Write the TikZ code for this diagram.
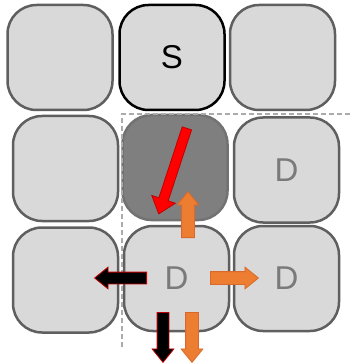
\documentclass[tikz,border=0pt]{standalone}
\usepackage{fontspec}
\setmainfont{Liberation Sans}
\usetikzlibrary{shapes.arrows}
\definecolor{boxfill}{HTML}{D9D9D9}
\definecolor{boxline}{HTML}{5F5F5F}
\definecolor{darkfill}{HTML}{7F7F7F}
\definecolor{dtext}{HTML}{7A7A7A}
\definecolor{dashgray}{HTML}{ABABAB}
\definecolor{arrorange}{HTML}{ED7D31}
\definecolor{arrorangeline}{HTML}{D8692A}
\definecolor{arrred}{HTML}{FF0000}
\definecolor{arrdarkred}{HTML}{C00000}
\begin{document}
\begin{tikzpicture}[x=1pt,y=-1pt,
  cell/.style={rectangle, rounded corners=29pt, minimum width=105pt, minimum height=105pt,
    fill=boxfill, draw=boxline, line width=2.5pt, inner sep=0pt,
    font=\fontsize{33}{33}\selectfont, text=dtext},
  startcell/.style={cell, draw=black, text=black},
  darkcell/.style={cell, fill=darkfill, draw=darkfill!90!black},
  blockarrow/.style={single arrow, anchor=tail, inner xsep=0pt, single arrow tip angle=78,
    line width=0.8pt},
  orangearrow/.style={blockarrow, fill=arrorange, draw=arrorangeline, inner ysep=6pt,
    minimum width=21pt, single arrow head extend=4.5pt},
  blackarrow/.style={blockarrow, fill=black, draw=arrdarkred, inner ysep=5.5pt,
    minimum width=21pt, single arrow head extend=5pt},
  redarrow/.style={blockarrow, fill=arrred, draw=arrdarkred, inner ysep=4.5pt,
    minimum width=24pt, single arrow head extend=7.5pt},
  dashline/.style={draw=dashgray, line width=1.5pt, dash pattern=on 5pt off 3pt}
]
\useasboundingbox (0,0) rectangle (350,363);
% row 1
\node[cell] (a1) at (60,57.5) {};
\node[startcell] (s) at (172,57.5) {S};
\node[cell] (a3) at (282.5,57.5) {};
% row 2
\node[cell] (b1) at (65.5,168.5) {};
\node[darkcell] (b2) at (175,167.5) {};
\node[cell] (b3) at (286.5,170) {D};
% row 3
\node[cell] (c1) at (65.5,280) {};
\node[cell] (c2) at (176.5,278.5) {D};
\node[cell] (c3) at (286.5,278.5) {D};
% dashed region border
\coordinate (dr) at (350,114);
\coordinate (dc) at (122,114);
\coordinate (db) at (122,348);
\draw[dashline] (dr) -- (dc) -- (db);
% arrows
\node[redarrow, minimum height=90pt, rotate=251.8] (ra) at (187,128) {};
\node[orangearrow, minimum height=46pt, rotate=90] (ou) at (188,238) {};
\node[orangearrow, minimum height=48pt, rotate=0] (or) at (210,278) {};
\node[blackarrow, minimum height=52pt, rotate=180] (bl) at (147,278) {};
\node[blackarrow, minimum height=50pt, rotate=-90] (bd) at (163,312) {};
\node[orangearrow, minimum height=50pt, rotate=-90] (od) at (192,312) {};
\end{tikzpicture}
\end{document}
